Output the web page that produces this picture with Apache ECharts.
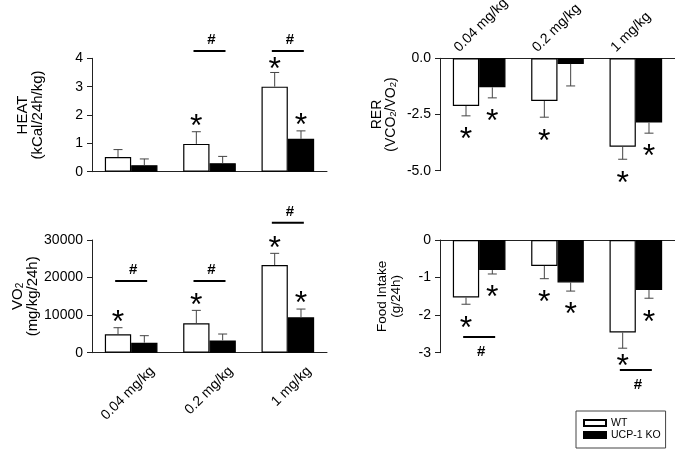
<!DOCTYPE html>
<html><head><meta charset="utf-8">
<script src="https://cdn.jsdelivr.net/npm/echarts@6/dist/echarts.min.js"></script>
<style>html,body{margin:0;padding:0;background:#fff}#c{width:675px;height:451px}</style>
</head><body><div id="c"></div>
<script>
const categories = ['0.04 mg/kg', '0.2 mg/kg', '1 mg/kg'];
const seriesNames = ['WT', 'UCP-1 KO'];

// HEAT (kCal/24h/kg)
const heatWT = [0.52, 0.98, 3.0];
const heatWTErr = [0.26, 0.43, 0.5];
const heatKO = [0.23, 0.3, 1.16];
const heatKOErr = [0.22, 0.24, 0.28];
const heatStarWT = [0, 1, 1];
const heatStarKO = [0, 0, 1];
const heatHash = [null, 4.26, 4.26];
const heatTicks = [0, 4, 1];

// RER (VCO2/VO2)
const rerWT = [-2.12, -1.9, -3.93];
const rerWTErr = [0.44, 0.72, 0.56];
const rerKO = [-1.29, -0.25, -2.86];
const rerKOErr = [0.47, 0.98, 0.47];
const rerStarWT = [1, 1, 1];
const rerStarKO = [1, 0, 1];
const rerHash = [null, null, null];
const rerTicks = [-5, 0, 2.5];

// VO2 (mg/kg/24h)
const vo2WT = [4880, 7810, 23340];
const vo2WTErr = [1770, 3460, 3110];
const vo2KO = [2660, 3280, 9410];
const vo2KOErr = [1870, 1690, 2210];
const vo2StarWT = [1, 1, 1];
const vo2StarKO = [0, 0, 1];
const vo2Hash = [19100, 19100, 34600];
const vo2Ticks = [0, 30000, 10000];

// Food intake (g/24h)
const foodWT = [-1.53, -0.69, -2.46];
const foodWTErr = [0.18, 0.34, 0.42];
const foodKO = [-0.80, -1.13, -1.33];
const foodKOErr = [0.105, 0.23, 0.22];
const foodStarWT = [1, 1, 1];
const foodStarKO = [1, 1, 1];
const foodHash = [-2.58, null, -3.46];
const foodTicks = [-3, 0, 1];

const FONT = "'Liberation Sans', Arial, Helvetica, sans-serif";
const AX = '#222';
const BAR_FRAC = 0.336;

function bars(idx, wt, ko) {
  return [
    {name: seriesNames[0], type: 'bar', xAxisIndex: idx, yAxisIndex: idx, data: wt,
     barWidth: '33.6%', barGap: '0%', itemStyle: {color: '#fff', borderColor: '#000', borderWidth: 1.2}},
    {name: seriesNames[1], type: 'bar', xAxisIndex: idx, yAxisIndex: idx, data: ko,
     barWidth: '33.6%', barGap: '0%', itemStyle: {color: '#000', borderColor: '#000', borderWidth: 1.2}}
  ];
}

function annot(idx, wt, wtE, ko, koE, sW, sK, hash, neg) {
  const data = categories.map((c, i) => [i, wt[i], wtE[i], ko[i], koE[i], sW[i], sK[i], hash[i] == null ? NaN : hash[i]]);
  return {
    type: 'custom', xAxisIndex: idx, yAxisIndex: idx, clip: false, silent: true, z: 10,
    dimensions: ['cat', 'wt', 'wtE', 'ko', 'koE', 'sW', 'sK', 'hash'],
    encode: {x: 0, y: 1},
    data: data,
    renderItem: function (params, api) {
      const i = api.value(0);
      const c = api.coord([i, 0]);
      const bw = api.size([1, 0])[0] * BAR_FRAC;
      const ch = [];
      const h = api.value(7);
      const hy = isNaN(h) ? NaN : api.coord([i, h])[1];
      const items = [
        [api.value(1), api.value(2), api.value(5), c[0] - bw / 2],
        [api.value(3), api.value(4), api.value(6), c[0] + bw / 2]
      ];
      items.forEach(function (it) {
        const v = it[0], e = it[1], s = it[2], x = it[3];
        const y0 = api.coord([i, v])[1];
        const y1 = api.coord([i, neg ? v - e : v + e])[1];
        ch.push({type: 'line', shape: {x1: x, y1: y0, x2: x, y2: y1}, style: {stroke: '#444', lineWidth: 1}});
        ch.push({type: 'line', shape: {x1: x - 4.5, y1: y1, x2: x + 4.5, y2: y1}, style: {stroke: '#444', lineWidth: 1}});
        if (s) {
          let sy = neg ? y1 + 17 : y1 - 12;
          if (!isNaN(hy)) sy = neg ? Math.min(sy, hy - 10) : Math.max(sy, hy + 12);
          ch.push({type: 'text', style: {text: '*', x: x, y: sy + 7.5, fontSize: 32, fontFamily: FONT, fill: '#000', align: 'center', verticalAlign: 'middle'}});
        }
      });
      if (!isNaN(hy)) {
        ch.push({type: 'line', shape: {x1: c[0] - 16, y1: hy, x2: c[0] + 16, y2: hy}, style: {stroke: '#000', lineWidth: 2}});
        ch.push({type: 'text', style: {text: '#', x: c[0] + 2, y: hy + (neg ? 15 : -11), fontSize: 15, fontWeight: 'bold', fontFamily: FONT, fill: '#000', align: 'center', verticalAlign: 'middle'}});
      }
      return {type: 'group', children: ch};
    }
  };
}

function yAx(idx, ticks, name, rich, gap, fmt) {
  return {
    type: 'value', gridIndex: idx, min: ticks[0], max: ticks[1], interval: ticks[2],
    splitLine: {show: false},
    axisLine: {show: true, lineStyle: {color: AX, width: 1}},
    axisTick: {show: true, length: 5, lineStyle: {color: AX}},
    axisLabel: {fontSize: 14, fontFamily: FONT, color: '#000', margin: 9, formatter: fmt || (v => String(v))},
    name: name, nameLocation: 'middle', nameRotate: 90, nameGap: gap,
    nameTextStyle: {fontFamily: FONT, color: '#000', rich: rich}
  };
}

const grids = [
  {left: 92, top: 58.3, width: 235, height: 113.4, outerBoundsMode: 'none', containLabel: false},
  {left: 440, top: 58.3, width: 235, height: 112.4, outerBoundsMode: 'none', containLabel: false},
  {left: 92, top: 240, width: 235, height: 112.7, outerBoundsMode: 'none', containLabel: false},
  {left: 440, top: 240, width: 235, height: 112.7, outerBoundsMode: 'none', containLabel: false}
];

const xAxes = [
  {type: 'category', gridIndex: 0, data: categories, position: 'bottom',
   axisLine: {lineStyle: {color: AX}}, axisTick: {show: false}, axisLabel: {show: false}},
  {type: 'category', gridIndex: 1, data: categories, position: 'top',
   axisLine: {lineStyle: {color: AX}}, axisTick: {show: false},
   axisLabel: {show: true, interval: 0, rotate: 45, fontSize: 14, fontFamily: FONT, color: '#000',
     margin: -14, verticalAlign: 'bottom', padding: [0, 0, 25, 0]}},
  {type: 'category', gridIndex: 2, data: categories, position: 'bottom',
   axisLine: {lineStyle: {color: AX}}, axisTick: {show: false},
   axisLabel: {show: true, interval: 0, rotate: 45, fontSize: 14, fontFamily: FONT, color: '#000',
     margin: -5, verticalAlign: 'top', padding: [23, 0, 0, 0]}},
  {type: 'category', gridIndex: 3, data: categories, position: 'top',
   axisLine: {lineStyle: {color: AX}}, axisTick: {show: false}, axisLabel: {show: false}}
];

const richL = {a: {fontSize: 15, fontFamily: FONT, color: '#000'}, b: {fontSize: 15, fontFamily: FONT, color: '#000'},
  s: {fontSize: 10, fontFamily: FONT, color: '#000', verticalAlign: 'bottom', lineHeight: 9}};
const richR = {a: {fontSize: 14, fontFamily: FONT, color: '#000'}, b: {fontSize: 14, fontFamily: FONT, color: '#000'},
  s: {fontSize: 9.5, fontFamily: FONT, color: '#000', verticalAlign: 'bottom', lineHeight: 8}};
const richF = {a: {fontSize: 13.5, fontFamily: FONT, color: '#000'}, b: {fontSize: 13.5, fontFamily: FONT, color: '#000'}};

const yAxes = [
  yAx(0, heatTicks, '{a|HEAT}\n{b|(kCal/24h/kg)}', richL, 47),
  yAx(1, rerTicks, '{a|RER}\n{b|(VCO}{s|2}{b|/VO}{s|2}{b|)}', richR, 42, v => v.toFixed(1)),
  yAx(2, vo2Ticks, '{a|VO}{s|2}\n{b|(mg/kg/24h)}', richL, 51),
  yAx(3, foodTicks, '{a|Food Intake}\n{b|(g/24h)}', richF, 37)
];

const series = [].concat(
  bars(0, heatWT, heatKO), bars(1, rerWT, rerKO), bars(2, vo2WT, vo2KO), bars(3, foodWT, foodKO),
  [annot(0, heatWT, heatWTErr, heatKO, heatKOErr, heatStarWT, heatStarKO, heatHash, false),
   annot(1, rerWT, rerWTErr, rerKO, rerKOErr, rerStarWT, rerStarKO, rerHash, true),
   annot(2, vo2WT, vo2WTErr, vo2KO, vo2KOErr, vo2StarWT, vo2StarKO, vo2Hash, false),
   annot(3, foodWT, foodWTErr, foodKO, foodKOErr, foodStarWT, foodStarKO, foodHash, true)]
);

const chart = echarts.init(document.getElementById('c'), null, {renderer: 'canvas'});
chart.setOption({
  animation: false,
  backgroundColor: '#fff',
  grid: grids,
  xAxis: xAxes,
  yAxis: yAxes,
  legend: {
    data: seriesNames, orient: 'vertical', left: 576, top: 411, padding: [6, 5, 7, 7], itemGap: 0,
    itemWidth: 22, itemHeight: 6, icon: 'rect', borderColor: '#444', borderWidth: 1, borderRadius: 0,
    textStyle: {fontSize: 10.5, fontFamily: FONT, color: '#000', lineHeight: 12}
  },
  series: series
});
</script></body></html>
